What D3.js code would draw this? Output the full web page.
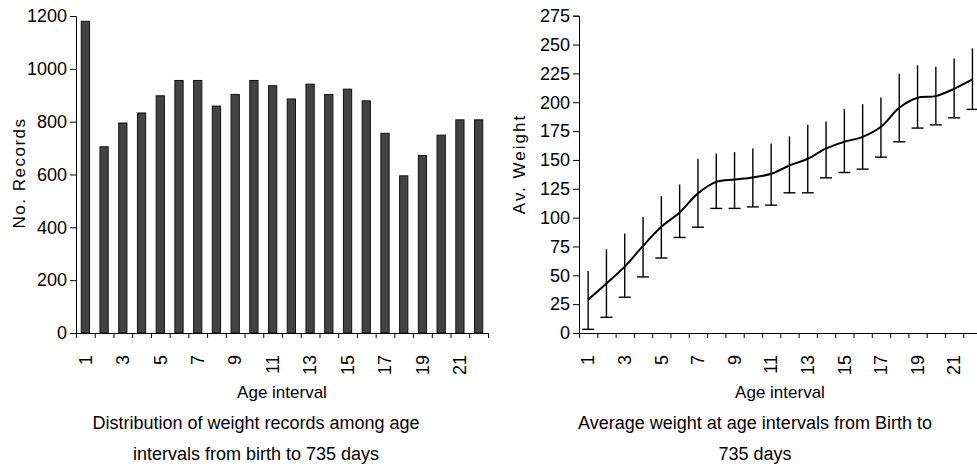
<!DOCTYPE html>
<html>
<head>
<meta charset="utf-8">
<script src="https://cdnjs.cloudflare.com/ajax/libs/d3/7.8.5/d3.min.js"></script>
<style>
  body { margin: 0; background: #fff; }
  svg text { font-family: "Liberation Sans", Arial, sans-serif; fill: #000; }
</style>
</head>
<body>
<div id="graph"></div>
<script>
// data
var ageIntervals = d3.range(1, 23);
var recordCounts = [1180, 705, 795, 833, 898, 956, 956, 859, 903, 956, 936, 886,
                    942, 903, 923, 879, 756, 595, 672, 749, 807, 807];
var avgWeight = [29, 43, 57.5, 75.5, 92, 104.5, 121, 131, 133, 134.8, 138, 145.2,
                 151, 160, 165.7, 170, 178.7, 195.2, 203.9, 205.3, 211.7, 219.8];
var weightLow = [3.2, 13.6, 31, 48.6, 65, 82.8, 91.7, 108, 108, 109.3, 110.8, 121.5,
                 121.5, 134.5, 139.1, 142, 152.4, 165.7, 177.6, 180.4, 186.5, 193.8];
var weightHigh = [53.8, 72.6, 86.2, 100.6, 118.6, 128.7, 151, 155.6, 156.8, 160, 164.3, 170.4,
                  180.4, 183.4, 194, 198.4, 204.2, 224.7, 232, 230.8, 238, 246.7];
var recordTicks = d3.range(0, 1201, 200);
var weightTicks = d3.range(0, 276, 25);
var oddLabels = ageIntervals.filter(function(d) { return d % 2 === 1; });

// global variables
var chart_width = 977;
var chart_height = 470;
var axisY = 333;
var tickFont = 18;

var svg = d3
  .select('#graph')
  .append('svg')
  .attr('width', chart_width)
  .attr('height', chart_height);

// draws the two category axes (ticks between bars, odd labels rotated)
var drawCategoryAxis = function (left, right) {
  var x_lin = d3.scaleLinear().domain([0, 22]).range([left, right]);
  var x_band = d3.scaleBand().domain(ageIntervals).range([left, right]);

  var g = svg.append('g').attr('transform', 'translate(0,' + axisY + ')');
  g.call(d3.axisBottom(x_lin).tickValues(d3.range(0, 23)).tickSize(5).tickFormat(''));

  var lab = svg.append('g').attr('transform', 'translate(0,' + axisY + ')');
  lab.call(d3.axisBottom(x_band).tickValues(oddLabels).tickSize(0));
  lab.select('.domain').remove();
  lab.selectAll('text')
    .attr('font-size', tickFont)
    .attr('font-family', null)
    .attr('transform', 'rotate(-90)')
    .attr('text-anchor', 'end')
    .attr('x', -22)
    .attr('y', 0)
    .attr('dy', '0.35em');

  return x_band;
};

var styleValueAxis = function (g) {
  g.selectAll('text')
    .attr('font-size', tickFont)
    .attr('font-family', null)
    .attr('x', -9);
};

// left chart - bars
var x_left = drawCategoryAxis(76, 488);
var y_left = d3.scaleLinear().domain([0, 1200]).range([axisY, 16]);

svg.append('g')
  .attr('transform', 'translate(76,0)')
  .call(d3.axisLeft(y_left).tickValues(recordTicks).tickSize(6).tickFormat(d3.format('d')))
  .call(styleValueAxis);

var barW = x_left.bandwidth() * 0.44;
svg.selectAll('.bar')
  .data(recordCounts)
  .enter()
  .append('rect')
  .attr('class', 'bar')
  .attr('x', function(d, i) { return x_left(ageIntervals[i]) + (x_left.bandwidth() - barW) / 2; })
  .attr('y', function(d) { return y_left(d); })
  .attr('width', barW)
  .attr('height', function(d) { return axisY - y_left(d); })
  .attr('fill', '#434343')
  .attr('stroke', '#111')
  .attr('stroke-width', 1);

// right chart - line with error bars
var x_right = drawCategoryAxis(579, 981.6);
var y_right = d3.scaleLinear().domain([0, 275]).range([axisY, 15.7]);

svg.append('g')
  .attr('transform', 'translate(579,0)')
  .call(d3.axisLeft(y_right).tickValues(weightTicks).tickSize(6).tickFormat(d3.format('d')))
  .call(styleValueAxis);

var cx = function(i) { return x_right(ageIntervals[i]) + x_right.bandwidth() / 2; };

var bars = svg.append('g').attr('stroke', '#000').attr('stroke-width', 1.4);
avgWeight.forEach(function(v, i) {
  bars.append('line')
    .attr('x1', cx(i)).attr('x2', cx(i))
    .attr('y1', y_right(weightHigh[i])).attr('y2', y_right(weightLow[i]));
  bars.append('line')
    .attr('x1', cx(i) - 6).attr('x2', cx(i) + 6)
    .attr('y1', y_right(weightLow[i])).attr('y2', y_right(weightLow[i]));
});

var line = d3
  .line()
  .x(function(d, i) { return cx(i); })
  .y(function(d) { return y_right(d); })
  .curve(d3.curveCatmullRom);

svg.append('path')
  .attr('d', line(avgWeight))
  .attr('fill', 'none')
  .attr('stroke', '#000')
  .attr('stroke-width', 2);

// titles
var addText = function (txt, x, y, size, rotate, spacing) {
  var t = svg.append('text')
    .text(txt)
    .attr('font-size', size)
    .attr('text-anchor', 'middle');
  if (spacing) t.attr('letter-spacing', spacing);
  if (rotate) {
    t.attr('transform', 'translate(' + x + ',' + y + ') rotate(-90)');
  } else {
    t.attr('x', x).attr('y', y);
  }
};

addText('No. Records', 25, 173, 17, true, 1.5);
addText('Av. Weight', 525, 164, 17, true, 2);
addText('Age interval', 282, 398, 17);
addText('Age interval', 780, 398, 17);
addText('Distribution of weight records among age', 256, 429, 18);
addText('intervals from birth to 735 days', 256, 460, 18);
addText('Average weight at age intervals from Birth to', 755, 429, 18);
addText('735 days', 755, 460, 18);
</script>
</body>
</html>
